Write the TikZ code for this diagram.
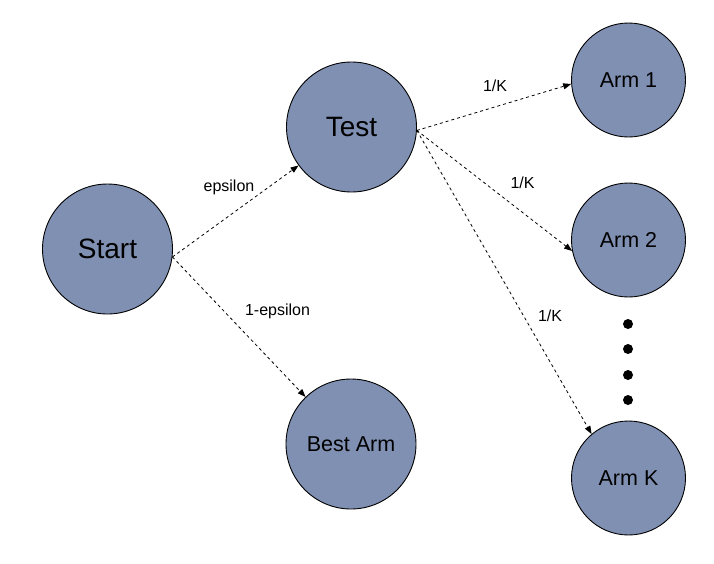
\documentclass[tikz,border=0pt]{standalone}
\usepackage{fontspec}
\setmainfont{Liberation Sans}
\usetikzlibrary{arrows.meta}
\definecolor{nodefill}{RGB}{127,144,178}
\tikzset{
  state/.style={circle, draw=black, line width=0.9pt, fill=nodefill, inner sep=0pt, text=black},
  bigstate/.style={state, minimum size=130pt, font=\fontsize{28}{30}\selectfont},
  midstate/.style={state, minimum size=130pt, font=\fontsize{21.5}{24}\selectfont},
  armstate/.style={state, minimum size=114pt, font=\fontsize{21.5}{24}\selectfont},
  edge/.style={draw=black, line width=0.8pt, dash pattern=on 3pt off 3pt, -{Triangle[length=8pt,width=6pt]}},
  elabel/.style={font=\fontsize{16}{18}\selectfont, inner sep=0pt},
  dotmark/.style={circle, fill=black, inner sep=0pt, minimum size=10pt}
}
\begin{document}
\begin{tikzpicture}[x=1pt,y=-1pt]
\useasboundingbox (0,0) rectangle (714,563);
\node[bigstate] (start) at (107.5,249) {Start};
\node[bigstate] (test) at (351.5,127) {Test};
\node[midstate] (best) at (351,444) {Best Arm};
\node[armstate] (arm1) at (628.5,80) {Arm 1};
\node[armstate] (arm2) at (628.5,240) {Arm 2};
\node[armstate] (armk) at (628.5,478) {Arm K};
\node[dotmark] (d1) at (628,324) {};
\node[dotmark] (d2) at (628,349) {};
\node[dotmark] (d3) at (628,375) {};
\node[dotmark] (d4) at (628,400) {};
\draw[edge] (start.-7) -- (test.216);
\draw[edge] (start.-7) -- (best.134);
\draw[edge] (test.-3) -- (arm1.184);
\draw[edge] (test.-3) -- (arm2.191);
\draw[edge] (test.-3) -- (armk.130);
\node[elabel] (l1) at (229,187) {epsilon};
\node[elabel] (l2) at (277.5,311) {1-epsilon};
\node[elabel] (l3) at (495,86) {1/K};
\node[elabel] (l4) at (522.5,183) {1/K};
\node[elabel] (l5) at (550,316) {1/K};
\end{tikzpicture}
\end{document}
